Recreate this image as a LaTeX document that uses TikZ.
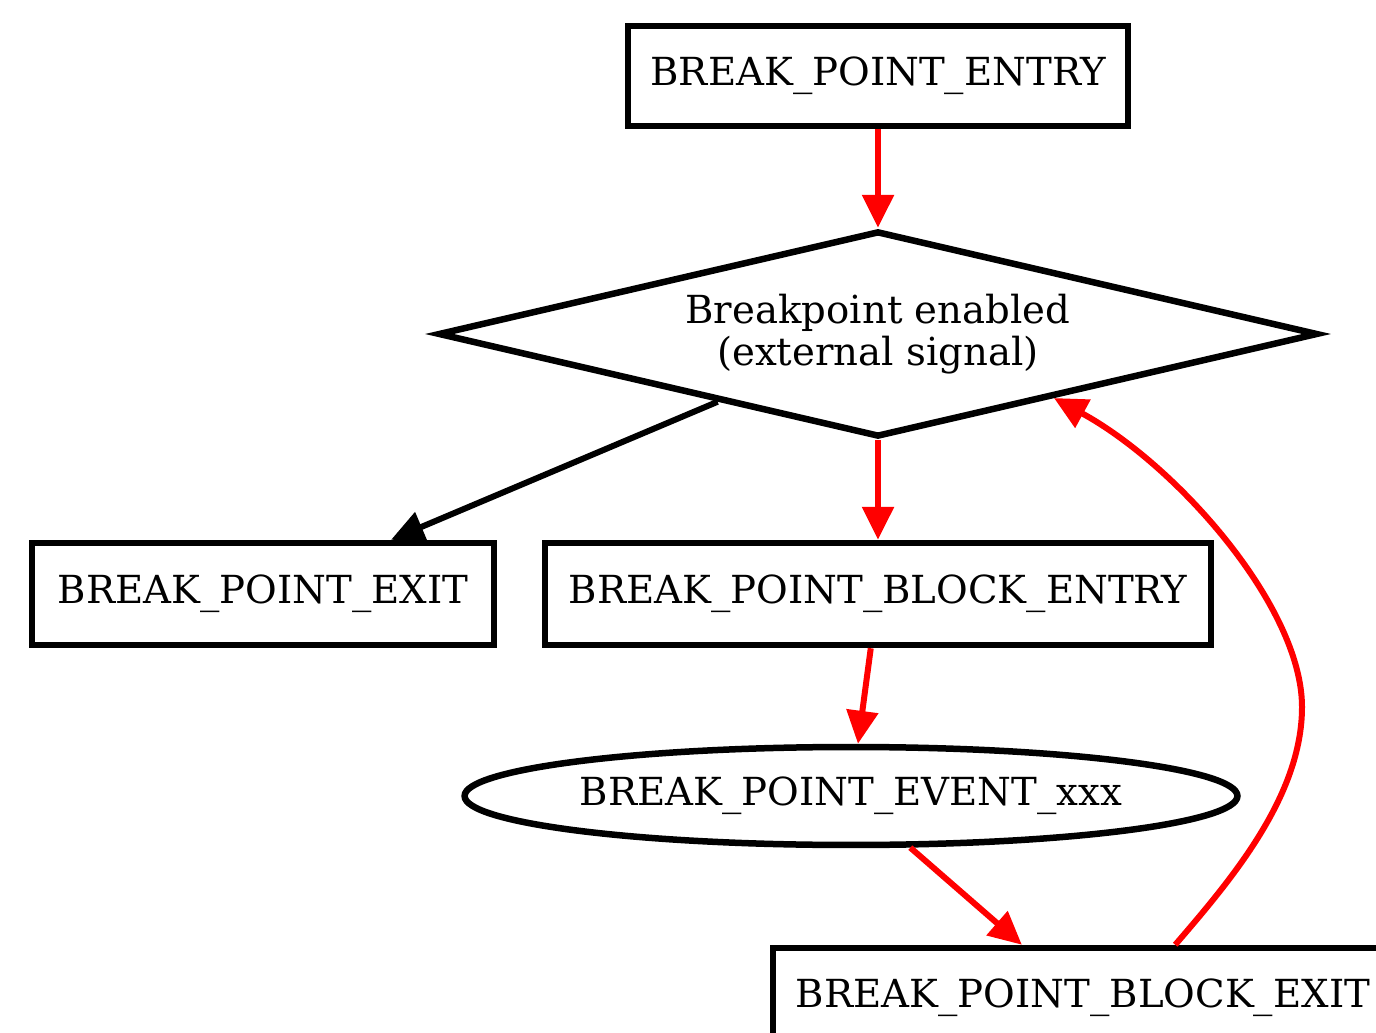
\documentclass[tikz,border=0pt]{standalone}
\usepackage{fontspec}
\setmainfont{DejaVu Serif}
\usetikzlibrary{shapes.geometric, arrows.meta}

\begin{document}
\begin{tikzpicture}[x=0.02cm, y=-0.02cm,
        font=\fontsize{22}{23.5}\selectfont,
        box/.style={draw, line width=0.13cm, rectangle, inner sep=0pt, minimum height=2cm},
        decision/.style={draw, line width=0.13cm, diamond, aspect=5, inner sep=0pt,
            minimum width=17.6cm, minimum height=4.12cm, align=center},
        event/.style={draw, line width=0.13cm, ellipse, inner sep=0pt,
            minimum width=15.46cm, minimum height=1.96cm},
        flow/.style={line width=0.12cm, -{Triangle[length=0.66cm, width=0.62cm]}},
        redflow/.style={flow, red}]
            \useasboundingbox (0, 0) rectangle (1376, 1033);
            \clip (0, 0) rectangle (1376, 1033);

            \node [box, minimum width=10cm] (entry) at (878, 76) {BREAK\_POINT\_ENTRY};
            \node [decision] (cond) at (878, 334) {Breakpoint enabled\\(external signal)};
            \node [box, minimum width=9.24cm, minimum height=2.04cm] (exitnode) at (263, 594) {BREAK\_POINT\_EXIT};
            \node [box, minimum width=13.32cm, minimum height=2.04cm] (bentry) at (878, 594) {BREAK\_POINT\_BLOCK\_ENTRY};
            \node [event] (event) at (851, 796) {BREAK\_POINT\_EVENT\_xxx};
            \node [box, minimum width=12.4cm] (bexit) at (1083, 998) {BREAK\_POINT\_BLOCK\_EXIT};

            \draw [redflow] (entry) -- (cond);
            \draw [flow] (cond) -- (exitnode);
            \draw [redflow] (cond) -- (bentry);
            \draw [redflow] (bentry) -- (event);
            \draw [redflow] (event) -- (bexit);
            \draw [redflow] (bexit.30) .. controls (1230, 881) and (1302, 797) .. (1302, 707)
                .. controls (1302, 607) and (1177, 465) .. (cond.-20);
        \end{tikzpicture}
\end{document}
